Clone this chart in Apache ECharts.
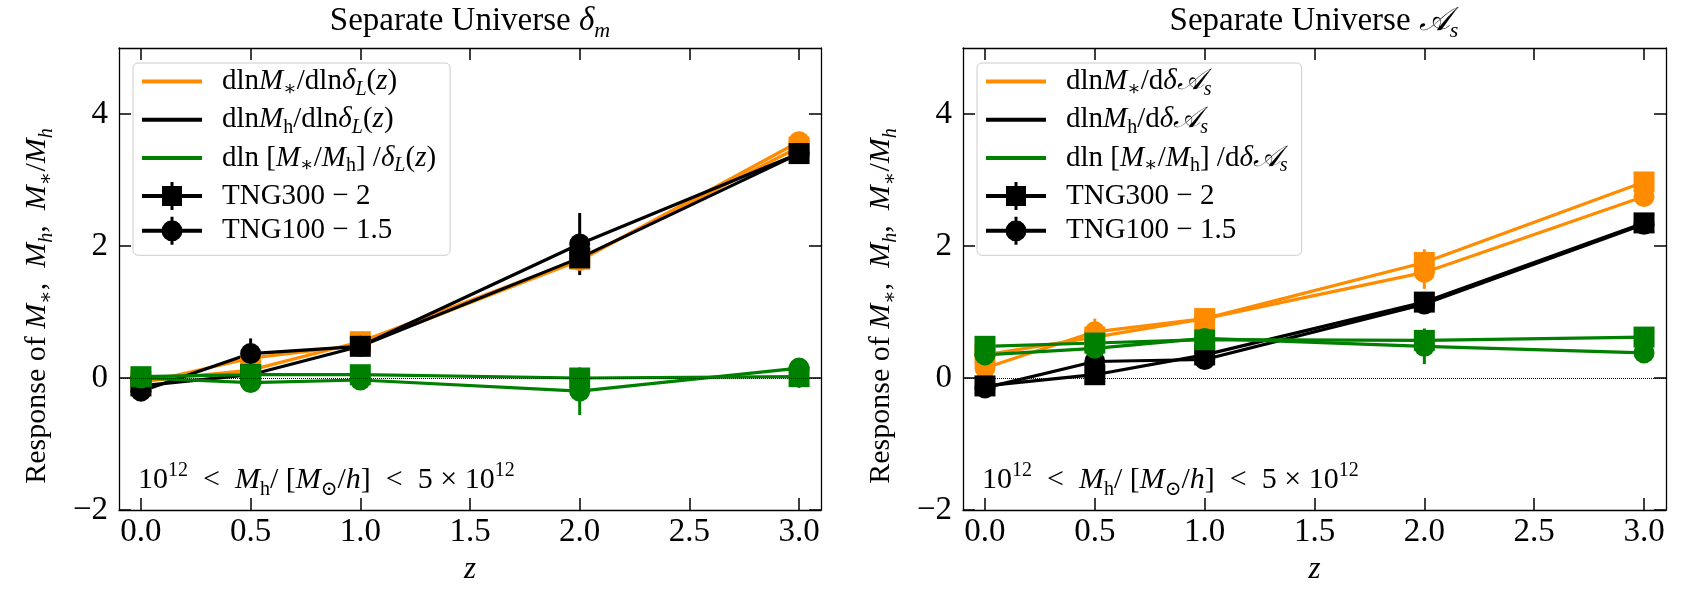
<!DOCTYPE html>
<html>
<head>
<meta charset="utf-8">
<script src="https://cdn.jsdelivr.net/npm/echarts@6/dist/echarts.min.js"></script>
<style>html,body{margin:0;padding:0;background:#fff;}#c{width:1700px;height:600px;}</style>
</head>
<body>
<div id="c"></div>
<script>
// ---------------- data ----------------
const zValues = [0.0, 0.5, 1.0, 2.0, 3.0];
const xTicks = [0, 0.5, 1.0, 1.5, 2.0, 2.5, 3.0];
const yTicks = [-2, 0, 2, 4];

// Separate Universe delta_m
const dmMstar300 = [-0.05, 0.12, 0.55, 1.80, 3.50];
const dmMstar300Err = [0.03, 0.05, 0.05, 0.10, 0.10];
const dmMh300 = [-0.12, 0.05, 0.48, 1.82, 3.40];
const dmMh300Err = [0.03, 0.05, 0.05, 0.12, 0.10];
const dmRatio300 = [0.02, 0.05, 0.05, 0.00, 0.02];
const dmRatio300Err = [0.03, 0.05, 0.05, 0.10, 0.17];
const dmMstar100 = [-0.08, 0.30, 0.50, 1.78, 3.58];
const dmMstar100Err = [0.05, 0.15, 0.10, 0.15, 0.15];
const dmMh100 = [-0.20, 0.37, 0.48, 2.03, 3.40];
const dmMh100Err = [0.05, 0.23, 0.10, 0.47, 0.12];
const dmRatio100 = [0.00, -0.07, -0.03, -0.20, 0.15];
const dmRatio100Err = [0.05, 0.10, 0.08, 0.36, 0.10];

// Separate Universe A_s
const asMstar300 = [0.35, 0.62, 0.90, 1.75, 2.97];
const asMstar300Err = [0.05, 0.08, 0.08, 0.20, 0.12];
const asMh300 = [-0.12, 0.05, 0.35, 1.15, 2.35];
const asMh300Err = [0.03, 0.05, 0.05, 0.08, 0.10];
const asRatio300 = [0.48, 0.53, 0.58, 0.57, 0.62];
const asRatio300Err = [0.04, 0.05, 0.05, 0.08, 0.08];
const asMstar100 = [0.15, 0.70, 0.90, 1.60, 2.75];
const asMstar100Err = [0.08, 0.20, 0.10, 0.25, 0.15];
const asMh100 = [-0.15, 0.25, 0.28, 1.12, 2.33];
const asMh100Err = [0.04, 0.06, 0.05, 0.08, 0.10];
const asRatio100 = [0.35, 0.45, 0.60, 0.48, 0.38];
const asRatio100Err = [0.05, 0.10, 0.10, 0.27, 0.08];

// ---------------- styling ----------------
const ORANGE = '#ff8c00', BLACK = '#000000', GREEN = '#008000';
const SERIF = '"Liberation Serif","DejaVu Serif",serif';

function richSet(fs, lh) {
  const sub = Math.round(fs * 0.68);
  const L = lh || Math.round(fs * 1.3);
  return {
    r: {fontFamily: SERIF, fontSize: fs, color: '#000', lineHeight: L},
    i: {fontFamily: SERIF, fontSize: fs, fontStyle: 'italic', color: '#000', lineHeight: L},
    sb: {fontFamily: SERIF, fontSize: sub, color: '#000', verticalAlign: 'bottom', lineHeight: sub + 2},
    sbi: {fontFamily: SERIF, fontSize: sub, fontStyle: 'italic', color: '#000', verticalAlign: 'bottom', lineHeight: sub + 2},
    sp: {fontFamily: SERIF, fontSize: sub, color: '#000', verticalAlign: 'top', lineHeight: sub + 2}
  };
}

const legendLabels = {
  dmStar: '{r|dln}{i|M}{sb|∗}{r|/dln}{i|δ}{sbi|L}{r|(}{i|z}{r|)}',
  dmH: '{r|dln}{i|M}{sb|h}{r|/dln}{i|δ}{sbi|L}{r|(}{i|z}{r|)}',
  dmRatio: '{r|dln [}{i|M}{sb|∗}{r|/}{i|M}{sb|h}{r|] /}{i|δ}{sbi|L}{r|(}{i|z}{r|)}',
  asStar: '{r|dln}{i|M}{sb|∗}{r|/d}{i|δ𝒜}{sbi|s}',
  asH: '{r|dln}{i|M}{sb|h}{r|/d}{i|δ𝒜}{sbi|s}',
  asRatio: '{r|dln [}{i|M}{sb|∗}{r|/}{i|M}{sb|h}{r|] /d}{i|δ𝒜}{sbi|s}',
  tng300: '{r|TNG300 − 2}',
  tng100: '{r|TNG100 − 1.5}'
};

const grids = [
  {left: 119, top: 48, width: 702, height: 462},
  {left: 963, top: 48, width: 703, height: 462}
];

const xAxes = [], yAxes = [];
const yName = '{r|Response of }{i|M}{sb|∗}{r|,  }{i|M}{sbi|h}{r|,  }{i|M}{sb|∗}{r|/}{i|M}{sbi|h}';
const spine = {show: true, onZero: false, lineStyle: {color: '#000', width: 1.3}};
for (let p = 0; p < 2; p++) {
  const tickStyle = {show: true, inside: true, length: 12, lineStyle: {color: '#000', width: 1.5}, customValues: xTicks};
  xAxes.push({
    type: 'value', gridIndex: p, position: 'bottom', min: -0.1, max: 3.1,
    axisLine: spine,
    axisTick: tickStyle,
    axisLabel: {show: true, customValues: xTicks, formatter: v => v.toFixed(1), fontFamily: SERIF, fontSize: 33, color: '#000', margin: 6},
    splitLine: {show: false},
    name: 'z', nameLocation: 'middle', nameGap: 40,
    nameTextStyle: {fontFamily: SERIF, fontSize: 31, fontStyle: 'italic', color: '#000'}
  });
  xAxes.push({
    type: 'value', gridIndex: p, position: 'top', min: -0.1, max: 3.1,
    axisLine: spine,
    axisTick: tickStyle,
    axisLabel: {show: false},
    splitLine: {show: false}
  });
  const yTickStyle = {show: true, inside: true, length: 12, lineStyle: {color: '#000', width: 1.5}, customValues: yTicks};
  yAxes.push({
    type: 'value', gridIndex: p, position: 'left', min: -2, max: 5,
    axisLine: spine,
    axisTick: yTickStyle,
    axisLabel: {show: true, customValues: yTicks, formatter: v => (v < 0 ? '−' + Math.abs(v) : String(v)), fontFamily: SERIF, fontSize: 33, color: '#000', margin: 11},
    splitLine: {show: false},
    name: yName, nameLocation: 'middle', nameGap: 62, nameRotate: 90,
    nameTextStyle: {rich: richSet(30), padding: [0, 54, 0, 0]}
  });
  yAxes.push({
    type: 'value', gridIndex: p, position: 'right', min: -2, max: 5,
    axisLine: spine,
    axisTick: yTickStyle,
    axisLabel: {show: false},
    splitLine: {show: false}
  });
}

const series = [];
function addSet(panel, id, values, errs, color, symbol) {
  const xi = panel * 2, yi = panel * 2;
  series.push({
    type: 'custom', name: id + '-err', xAxisIndex: xi, yAxisIndex: yi, silent: true,
    data: zValues.map((z, k) => [z, values[k], errs[k]]),
    encode: {x: 0, y: 1},
    renderItem: (params, api) => {
      const x = api.value(0), y = api.value(1), e = api.value(2);
      const a = api.coord([x, y - e]), b = api.coord([x, y + e]);
      return {type: 'line', shape: {x1: a[0], y1: a[1], x2: b[0], y2: b[1]}, style: {stroke: color, lineWidth: 3}};
    }
  });
  series.push({
    type: 'line', name: id, xAxisIndex: xi, yAxisIndex: yi,
    data: zValues.map((z, k) => [z, values[k]]),
    symbol: symbol, symbolSize: 21, showSymbol: true,
    lineStyle: {color: color, width: 3.2}, itemStyle: {color: color},
    emphasis: {disabled: true}, silent: true
  });
}

// zero reference lines
for (let p = 0; p < 2; p++) {
  series.push({
    type: 'line', name: 'zero' + p, xAxisIndex: p * 2, yAxisIndex: p * 2, data: [], silent: true,
    markLine: {silent: true, symbol: ['none', 'none'], label: {show: false},
      lineStyle: {type: 'dotted', color: '#000', width: 1}, data: [{yAxis: 0}]}
  });
}

addSet(0, 'dmMstar300', dmMstar300, dmMstar300Err, ORANGE, 'rect');
addSet(0, 'dmMstar100', dmMstar100, dmMstar100Err, ORANGE, 'circle');
addSet(0, 'dmMh300', dmMh300, dmMh300Err, BLACK, 'rect');
addSet(0, 'dmMh100', dmMh100, dmMh100Err, BLACK, 'circle');
addSet(0, 'dmRatio300', dmRatio300, dmRatio300Err, GREEN, 'rect');
addSet(0, 'dmRatio100', dmRatio100, dmRatio100Err, GREEN, 'circle');

addSet(1, 'asMstar300', asMstar300, asMstar300Err, ORANGE, 'rect');
addSet(1, 'asMstar100', asMstar100, asMstar100Err, ORANGE, 'circle');
addSet(1, 'asMh300', asMh300, asMh300Err, BLACK, 'rect');
addSet(1, 'asMh100', asMh100, asMh100Err, BLACK, 'circle');
addSet(1, 'asRatio300', asRatio300, asRatio300Err, GREEN, 'rect');
addSet(1, 'asRatio100', asRatio100, asRatio100Err, GREEN, 'circle');

// legend-only series
const LINE_ICON = 'path://M0,12h60v4h-60z';
const SQ_ICON = 'path://M0,12h60v4h-60z M20,4h20v20h-20z M28.5,0h3v28h-3z';
const CI_ICON = 'path://M0,12h60v4h-60z M19.5,14a10.5,10.5 0 1,1 21,0a10.5,10.5 0 1,1 -21,0z M28.5,0h3v28h-3z';
const legendDefs = [
  ['dmStar', ORANGE, LINE_ICON], ['dmH', BLACK, LINE_ICON], ['dmRatio', GREEN, LINE_ICON],
  ['asStar', ORANGE, LINE_ICON], ['asH', BLACK, LINE_ICON], ['asRatio', GREEN, LINE_ICON],
  ['tng300', BLACK, SQ_ICON], ['tng100', BLACK, CI_ICON]
];
const legendIcons = {};
legendDefs.forEach(([n, c, ic]) => {
  legendIcons[n] = ic;
  series.push({type: 'line', name: n, data: [], xAxisIndex: 0, yAxisIndex: 0, symbol: 'none',
    lineStyle: {color: c, width: 4}, itemStyle: {color: c}});
});

function legendCfg(left, names) {
  return {
    left: left, top: 63, orient: 'vertical', selectedMode: false,
    data: names.map(n => ({name: n, icon: legendIcons[n]})),
    itemWidth: 60, itemHeight: 28, itemGap: 5.7,
    padding: [4, 14, 10, 9],
    backgroundColor: 'rgba(255,255,255,0.85)', borderColor: '#cccccc', borderWidth: 1, borderRadius: 5,
    formatter: n => legendLabels[n],
    textStyle: {rich: richSet(29, 36), padding: [0, 0, 0, 15]}
  };
}

const annot = '{r|10}{sp|12}{r|  <  }{i|M}{sb|h}{r|/ [}{i|M}{sb|⊙}{r|/}{i|h}{r|]  <  5 × 10}{sp|12}';
const titleRich = richSet(33);

const option = {
  animation: false,
  backgroundColor: '#fff',
  grid: grids,
  xAxis: xAxes,
  yAxis: yAxes,
  legend: [
    legendCfg(133, ['dmStar', 'dmH', 'dmRatio', 'tng300', 'tng100']),
    legendCfg(977, ['asStar', 'asH', 'asRatio', 'tng300', 'tng100'])
  ],
  graphic: [
    {type: 'text', x: 470, y: 21, style: {text: '{r|Separate Universe }{i|δ}{sbi|m}', rich: titleRich, align: 'center', verticalAlign: 'middle'}},
    {type: 'text', x: 1314, y: 21, style: {text: '{r|Separate Universe }{i|𝒜}{sbi|s}', rich: titleRich, align: 'center', verticalAlign: 'middle'}},
    {type: 'text', x: 138, y: 480, style: {text: annot, rich: richSet(30), align: 'left', verticalAlign: 'middle'}},
    {type: 'text', x: 982, y: 480, style: {text: annot, rich: richSet(30), align: 'left', verticalAlign: 'middle'}}
  ],
  series: series
};

const chart = echarts.init(document.getElementById('c'), null, {renderer: 'canvas'});
chart.setOption(option);
</script>
</body>
</html>
